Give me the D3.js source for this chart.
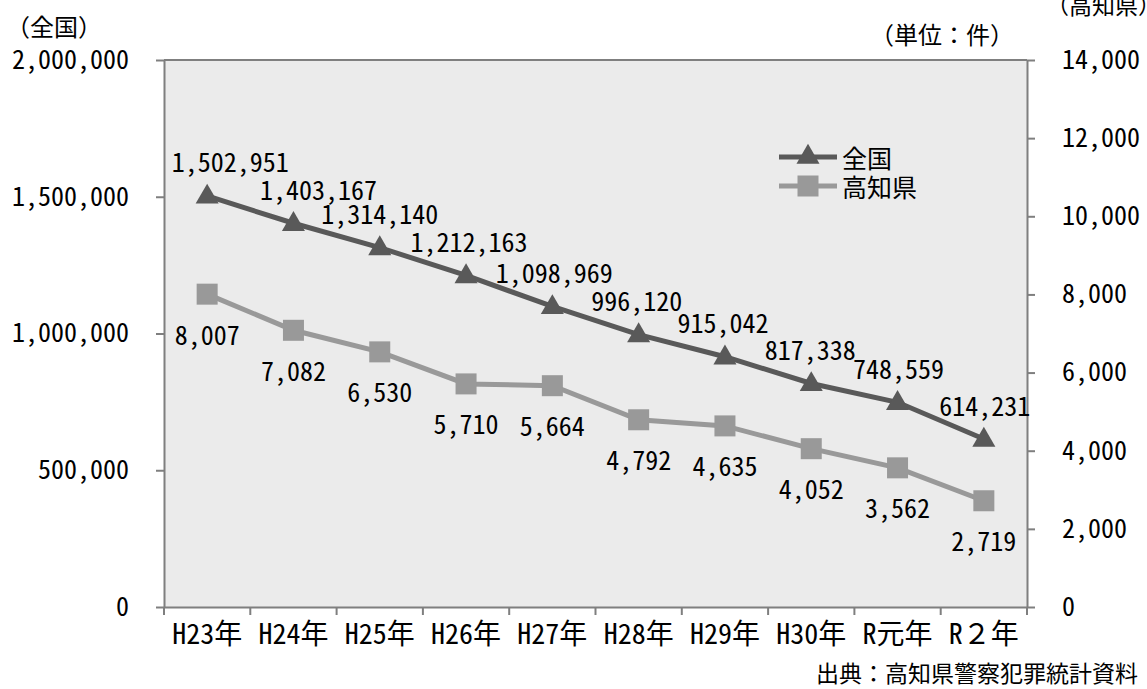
<!DOCTYPE html>
<html><head><meta charset="utf-8">
<script src="https://cdn.jsdelivr.net/npm/d3@7"></script>
<style>
html,body{margin:0;padding:0;background:#fff;}
text{font-family:'Noto Sans Mono CJK JP','Noto Sans CJK JP',sans-serif;fill:#000;}
</style></head>
<body><svg id="c" width="1147" height="689"></svg>
<script>
const categories = ["H23年","H24年","H25年","H26年","H27年","H28年","H29年","H30年","R元年","R２年"];
const zenkoku = [1502951,1403167,1314140,1212163,1098969,996120,915042,817338,748559,614231];
const kochi = [8007,7082,6530,5710,5664,4792,4635,4052,3562,2719];
const leftTicks = [0,500000,1000000,1500000,2000000];
const rightTicks = [0,2000,4000,6000,8000,10000,12000,14000];
const seriesNames = ["全国","高知県"];
// small horizontal nudges of the national labels as placed in the original
const zenLabelNudge = [23,25,0,3,2,-2,-2,-1,1,1];

const svg = d3.select("#c");
const L = 164, R = 1027, T = 60, B = 607;
const x = d3.scaleBand().domain(categories).range([L, R]);
const yL = d3.scaleLinear().domain([0,2000000]).range([B, T]);
const yR = d3.scaleLinear().domain([0,14000]).range([B, T]);
const fmt = d3.format(",");
const dark = "#595959", light = "#999999", axisCol = "#7f7f7f";

svg.append("rect").attr("x",L).attr("y",T).attr("width",R-L).attr("height",B-T).attr("fill","#ebebeb");
svg.append("line").attr("x1",L).attr("x2",R).attr("y1",T).attr("y2",T).attr("stroke",axisCol).attr("stroke-width",2);

const gl = svg.append("g").attr("transform",`translate(${L},0)`)
  .call(d3.axisLeft(yL).tickValues(leftTicks).tickFormat(fmt).tickSize(8).tickPadding(27).tickSizeOuter(0));
const gr = svg.append("g").attr("transform",`translate(${R},0)`)
  .call(d3.axisRight(yR).tickValues(rightTicks).tickFormat(fmt).tickSize(8).tickPadding(27).tickSizeOuter(0));
const gb = svg.append("g").attr("transform",`translate(0,${B})`)
  .call(d3.axisBottom(x).tickSize(0).tickPadding(17));
[gl,gr,gb].forEach(g=>{
  g.selectAll("path.domain").attr("stroke",axisCol).attr("stroke-width",2);
  g.selectAll(".tick line").attr("stroke",axisCol).attr("stroke-width",2);
  g.selectAll("text").style("font-size","26px").attr("fill","#000");
});
gb.selectAll("text").style("font-size","28px");
const bounds = categories.map(c=>x(c)).concat([R]);
svg.append("g").selectAll("line").data(bounds).join("line")
  .attr("x1",d=>d).attr("x2",d=>d).attr("y1",B).attr("y2",B+8)
  .attr("stroke",axisCol).attr("stroke-width",2);

const cx = c => x(c) + x.bandwidth()/2;

const lineZ = d3.line().x((d,i)=>cx(categories[i])).y(d=>yL(d));
const lineK = d3.line().x((d,i)=>cx(categories[i])).y(d=>yR(d));
svg.append("path").datum(kochi).attr("d",lineK).attr("fill","none").attr("stroke",light).attr("stroke-width",5);
svg.append("path").datum(zenkoku).attr("d",lineZ).attr("fill","none").attr("stroke",dark).attr("stroke-width",5);

const tri = d3.symbol().type(d3.symbolTriangle).size(230);
svg.append("g").selectAll("path").data(zenkoku).join("path")
  .attr("d",tri).attr("fill",dark)
  .attr("transform",(d,i)=>`translate(${cx(categories[i])},${yL(d)+1})`);
svg.append("g").selectAll("rect").data(kochi).join("rect")
  .attr("x",(d,i)=>cx(categories[i])-10.5).attr("y",d=>yR(d)-10.5)
  .attr("width",21).attr("height",21).attr("fill",light);

svg.append("g").selectAll("text").data(zenkoku).join("text")
  .attr("x",(d,i)=>cx(categories[i])+zenLabelNudge[i]).attr("y",d=>yL(d)-35)
  .attr("text-anchor","middle").attr("dominant-baseline","central")
  .style("font-size","26px").text(d=>fmt(d));
svg.append("g").selectAll("text").data(kochi).join("text")
  .attr("x",(d,i)=>cx(categories[i])).attr("y",d=>yR(d)+39)
  .attr("text-anchor","middle").attr("dominant-baseline","central")
  .style("font-size","26px").text(d=>fmt(d));

const lg = svg.append("g");
const legY = [157,186];
lg.append("line").attr("x1",779).attr("x2",837).attr("y1",legY[0]).attr("y2",legY[0]).attr("stroke",dark).attr("stroke-width",5);
lg.append("path").attr("d",tri).attr("fill",dark).attr("transform",`translate(808,${legY[0]})`);
lg.append("line").attr("x1",779).attr("x2",837).attr("y1",legY[1]).attr("y2",legY[1]).attr("stroke",light).attr("stroke-width",5);
lg.append("rect").attr("x",797.5).attr("y",legY[1]-10.5).attr("width",21).attr("height",21).attr("fill",light);
lg.selectAll("text").data(seriesNames).join("text")
  .attr("x",842).attr("y",(d,i)=>legY[i]).attr("dominant-baseline","central")
  .style("font-size","25px").text(d=>d);

svg.append("text").attr("x",6).attr("y",25).attr("dominant-baseline","central").style("font-size","24px").text("（全国）");
svg.append("text").attr("x",1014).attr("y",33).attr("text-anchor","end").attr("dominant-baseline","central").style("font-size","24px").text("（単位：件）");
svg.append("text").attr("x",1046).attr("y",4).attr("dominant-baseline","central").style("font-size","23px").text("（高知県）");
svg.append("text").attr("x",1138).attr("y",672).attr("text-anchor","end").attr("dominant-baseline","central").style("font-size","23px").text("出典：高知県警察犯罪統計資料");
</script></body></html>
